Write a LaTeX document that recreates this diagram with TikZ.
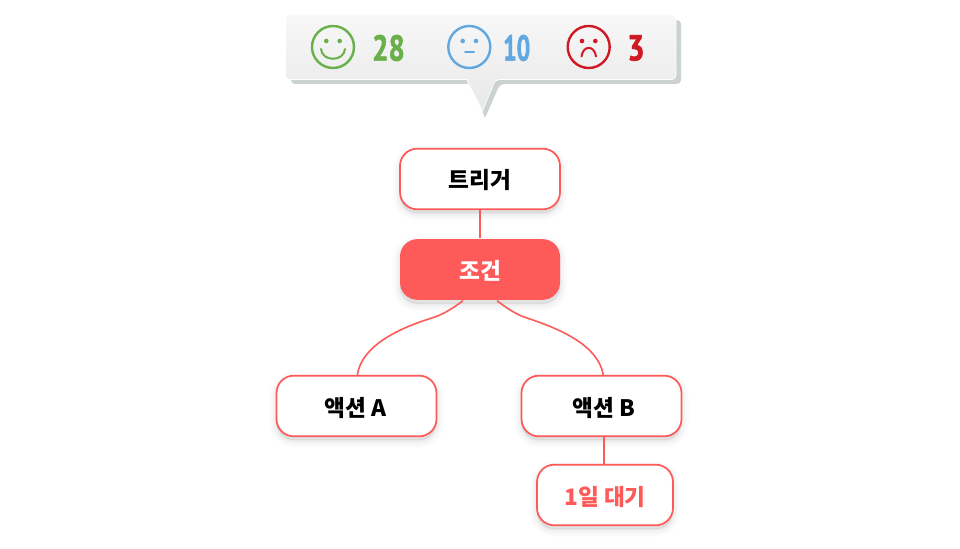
\documentclass[tikz,border=0pt]{standalone}
\usepackage{fontspec}
\newfontfamily\krfont{Noto Sans CJK KR}
\newfontfamily\numfont[BoldFeatures={FakeBold=1.8}]{PT Sans}
\usetikzlibrary{shadows,calc}
\definecolor{coral}{HTML}{FF5A5A}
\definecolor{okgreen}{HTML}{6AB04A}
\definecolor{midblue}{HTML}{62A8E0}
\definecolor{badred}{HTML}{CF1A24}
\definecolor{tailgrey}{HTML}{CCD1D1}
\tikzset{
  softshade/.style={
    general shadow={shadow yshift=-3pt,draw=black,fill=black,line width=11pt,opacity=.012},
    general shadow={shadow yshift=-3pt,draw=black,fill=black,line width=8pt,opacity=.016},
    general shadow={shadow yshift=-3pt,draw=black,fill=black,line width=5pt,opacity=.02},
    general shadow={shadow yshift=-3pt,draw=black,fill=black,line width=2pt,opacity=.024}},
  flowbox/.style={softshade,rectangle,rounded corners=13pt,draw=coral,line width=1.3pt,fill=white,
    minimum width=120pt,minimum height=45.5pt,inner sep=0pt,text height=15pt,text depth=.8pt,
    font=\krfont\bfseries\fontsize{17pt}{20pt}\selectfont,text=black},
  lowtext/.style={text height=16.5pt},
  link/.style={draw=coral,line width=1.2pt},
  face/.style={line width=1.8pt,fill=none},
  feature/.style={line width=1.5pt,line cap=round},
  count/.style={inner sep=0pt,font=\numfont\bfseries\fontsize{27pt}{30pt}\selectfont}
}
\begin{document}
\begin{tikzpicture}[x=.75pt,y=-.75pt]
\useasboundingbox[fill=white] (0,0) rectangle (960,549);
% speech bubble
\fill[tailgrey,rounded corners=3pt] (291,20) -- (681,20) -- (681,84) -- (500,84) [sharp corners] -- (485,118) -- (472,84) [rounded corners=3pt] -- (291,84) -- cycle;
\shade[top color=black!3,bottom color=black!9,draw=white,line width=.5pt,rounded corners=3pt]
  (285.5,15) -- (676,15) -- (676,79.5) -- (495.5,79.5) [sharp corners] -- (482.5,111) -- (466.5,79.5) [rounded corners=3pt] -- (285.5,79.5) -- cycle;
% smile
\draw[face,okgreen] (333,47) circle[radius=21];
\fill[okgreen] (326.3,41) circle[radius=2.3] (339.7,41) circle[radius=2.3];
\draw[feature,okgreen] (321,49) .. controls (322,62) and (344,62) .. (345,49);
\node[count,text=okgreen,xscale=.8] (good) at (388.5,48) {28};
% neutral
\draw[face,midblue] (469.3,47) circle[radius=21];
\fill[midblue] (462.7,41) circle[radius=2.3] (476,41) circle[radius=2.3];
\draw[feature,midblue] (465,52.5) -- (474,52.5);
\node[count,text=midblue,xscale=.66] (neutral) at (516.7,48) {10};
% frown
\draw[face,badred] (588.7,47) circle[radius=21];
\fill[badred] (582,41) circle[radius=2.3] (595.3,41) circle[radius=2.3];
\draw[feature,badred] (581.5,56.5) .. controls (583,45) and (594.5,45) .. (596,56.5);
\node[count,text=badred,xscale=.85] (bad) at (636,48) {3};
% flow nodes
\node[flowbox] (trigger) at (480,179) {트리거};
\node[flowbox,lowtext,fill=coral,draw=none,text=white] (cond) at (480,269.5) {조건};
\node[flowbox,lowtext] (acta) at (356.5,406) {\hspace*{-2pt}액션 A};
\node[flowbox,lowtext] (actb) at (601.5,406) {\hspace*{4pt}액션 B};
\node[flowbox,lowtext,minimum width=102pt,text=coral] (wait) at (605,495) {1일 대기};
% connectors
\coordinate (cl) at ($(cond.south)+(-17,0)$);
\coordinate (cr) at ($(cond.south)+(17,0)$);
\coordinate (bl) at (431.7,318);
\coordinate (br) at (527,318);
\coordinate (ta) at ($(acta.north)+(.8,0)$);
\coordinate (tb) at ($(actb.north)+(1.8,0)$);
\draw[link] (trigger) -- (cond);
\draw[link] (cl) .. controls (452,309) and (442,315) .. (bl) .. controls (400,328) and (362,345) .. (ta);
\draw[link] (cr) .. controls (508,309) and (517,315) .. (br) .. controls (560,329) and (598,345) .. (tb);
\coordinate (bb) at ($(actb.south)+(2.5,0)$);
\coordinate (wt) at (bb |- wait.north);
\draw[link] (bb) -- (wt);
\end{tikzpicture}
\end{document}
